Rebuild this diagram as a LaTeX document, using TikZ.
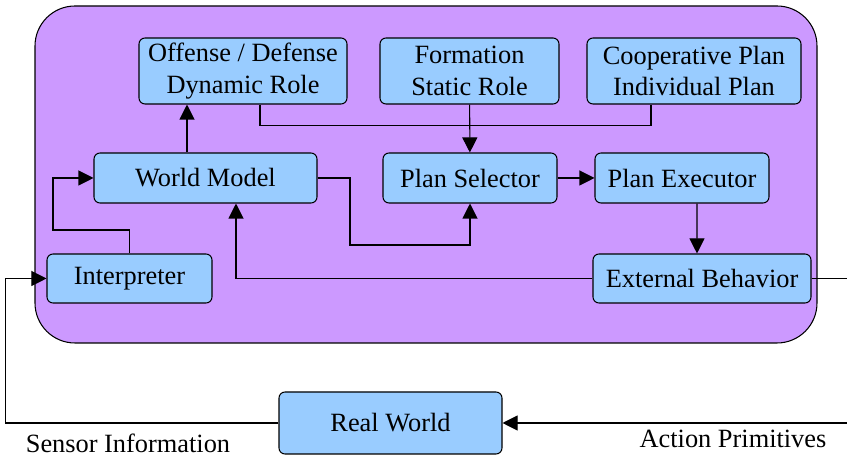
\documentclass[tikz,border=0pt]{standalone}
\usepackage{fontspec}
\setmainfont{Liberation Serif}
\newfontfamily\labelfont{Liberation Serif}
\usetikzlibrary{arrows.meta, calc, positioning}
\definecolor{agentbg}{HTML}{CC99FF}
\definecolor{boxbg}{HTML}{99CCFF}
\tikzset{ txt/.style = {font=\labelfont\fontsize{15}{18}\selectfont},
          block/.style = {txt, draw, fill=boxbg, rounded corners=0.12cm, align=center, inner sep=0pt, minimum height=1cm},
          tall/.style = {block, minimum height=1.32cm},
          link/.style = {-{Triangle[length=0.3cm, width=0.3cm]}} }

\begin{document}
\begin{tikzpicture}[line width=0.6pt]
  \useasboundingbox (0,0) rectangle (16.94,9.16);
  % the agent itself
  \draw[fill=agentbg, rounded corners=0.8cm] (0.7,2.3) rectangle (16.34,9.04);

  \path (4.86,7.74) node[tall, minimum width=4.16cm] (dyn) {Offense / Defense\\Dynamic Role}
      ++(4.53,0) node[tall, minimum width=3.58cm] (form) {Formation\\Static Role}
      ++(4.49,0) node[tall, minimum width=4.28cm] (coop) {Cooperative Plan\\Individual Plan};
  \path (4.11,5.60) node[block, minimum width=4.46cm] (wm) {World Model}
      ++(5.29,0) node[block, minimum width=3.48cm] (sel) {Plan Selector}
      ++(4.24,0) node[block, minimum width=3.48cm] (exec) {Plan Executor};
  \path (2.59,3.59) node[block, minimum width=3.30cm, minimum height=0.98cm] (interp) {Interpreter}
      ++(11.45,0) node[block, minimum width=4.36cm, minimum height=0.98cm] (ext) {External Behavior};
  \node[block, minimum width=4.46cm, minimum height=1.24cm] (real) at (7.81,0.70) {Real World};

  \node[txt] (sensor) at (2.56,0.30) {Sensor Information};
  \node[txt] (action) at (14.66,0.38) {Action Primitives};

  % roles and plans feed the selector
  \coordinate (merge) at ($(sel.north)+(0,0.54)$);
  \draw (dyn.south -| 5.20,0) |- (merge);
  \draw (coop.south -| 13.02,0) |- (merge);
  \draw[link] (form) -- (sel);

  % inside the agent
  \draw[link] (wm.north -| 3.74,0) -- (dyn.south -| 3.74,0);
  \draw[link] (wm.east) -| (7.00,4.26) -| (sel.south);
  \draw[link] (sel) -- (exec);
  \draw[link] ([xshift=0.30cm]exec.south) -- ([xshift=-0.10cm]ext.north);
  \draw[link] (ext.west) -| ([xshift=0.61cm]wm.south);
  \draw[link] (interp.north) |- (1.06,4.56) |- (wm.west);

  % loop through the environment
  \draw[link] (real.west) -| ([xshift=-0.82cm]interp.west) -- (interp.west);
  \draw[link] (ext.east) -- ++(1.0,0) |- (real.east);
\end{tikzpicture}
\end{document}
